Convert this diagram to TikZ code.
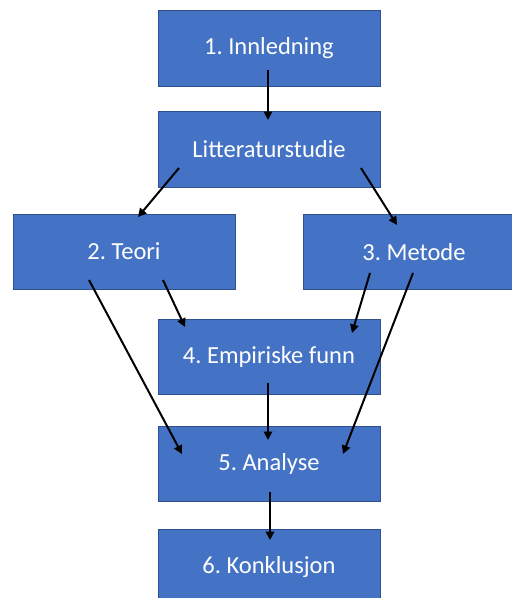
\documentclass[tikz,border=0pt]{standalone}
\usepackage{fontspec}
\setmainfont{Carlito}
\usetikzlibrary{arrows.meta,calc}
\definecolor{boxfill}{HTML}{4472C4}
\definecolor{boxline}{HTML}{2F528F}
\tikzset{
  box/.style={rectangle, fill=boxfill, draw=boxline, line width=0.8pt, minimum width=222pt, inner sep=0pt, text=white, font=\fontsize{24.5}{29}\selectfont},
  arr/.style={draw=black, line width=2pt, -{Triangle[length=8.5pt,width=8.5pt]}}
}
\frenchspacing
\begin{document}
\begin{tikzpicture}[x=1pt,y=-1pt]
\useasboundingbox (0,0) rectangle (512,598);
\clip (0,0) rectangle (512,598);
\fill[white] (0,0) rectangle (512,598);
\node[box, minimum height=76pt] (in) at (269,48.5) {1. Innledning};
\node[box, minimum height=76pt] (lit) at (269,149) {Litteraturstudie};
\node[box, minimum height=75pt] (teori) at (124,251.5) {2. Teori};
\node[box, minimum height=75pt] (metode) at (414,252) {3. Metode};
\node[box, minimum height=75pt] (emp) at (269,356.5) {4. Empiriske funn};
\node[box, minimum height=75pt] (ana) at (269,463.5) {5. Analyse};
\node[box, minimum height=76pt] (konk) at (269,567) {6. Konklusjon};
\draw[arr] ($(in.center)+(-1,21.5)$) -- ($(lit.center)+(-1,-29)$);
\draw[arr] ($(lit.center)+(-90,19)$) -- ($(teori.center)+(14,-34.5)$);
\draw[arr] ($(lit.center)+(92,19)$) -- ($(metode.center)+(-17,-27)$);
\draw[arr] ($(teori.center)+(39,28.5)$) -- ($(emp.center)+(-84,-29.5)$);
\draw[arr] ($(teori.center)+(-35,28.5)$) -- ($(ana.center)+(-87,-9.5)$);
\draw[arr] ($(metode.center)+(-44,21)$) -- ($(emp.center)+(83,-23.5)$);
\draw[arr] ($(metode.center)+(-1,21)$) -- ($(ana.center)+(74,-9.5)$);
\draw[arr] ($(emp.center)+(-1,26.5)$) -- ($(ana.center)+(-1,-23.5)$);
\draw[arr] ($(ana.center)+(1,28.5)$) -- ($(konk.center)+(1,-27)$);
\end{tikzpicture}
\end{document}
